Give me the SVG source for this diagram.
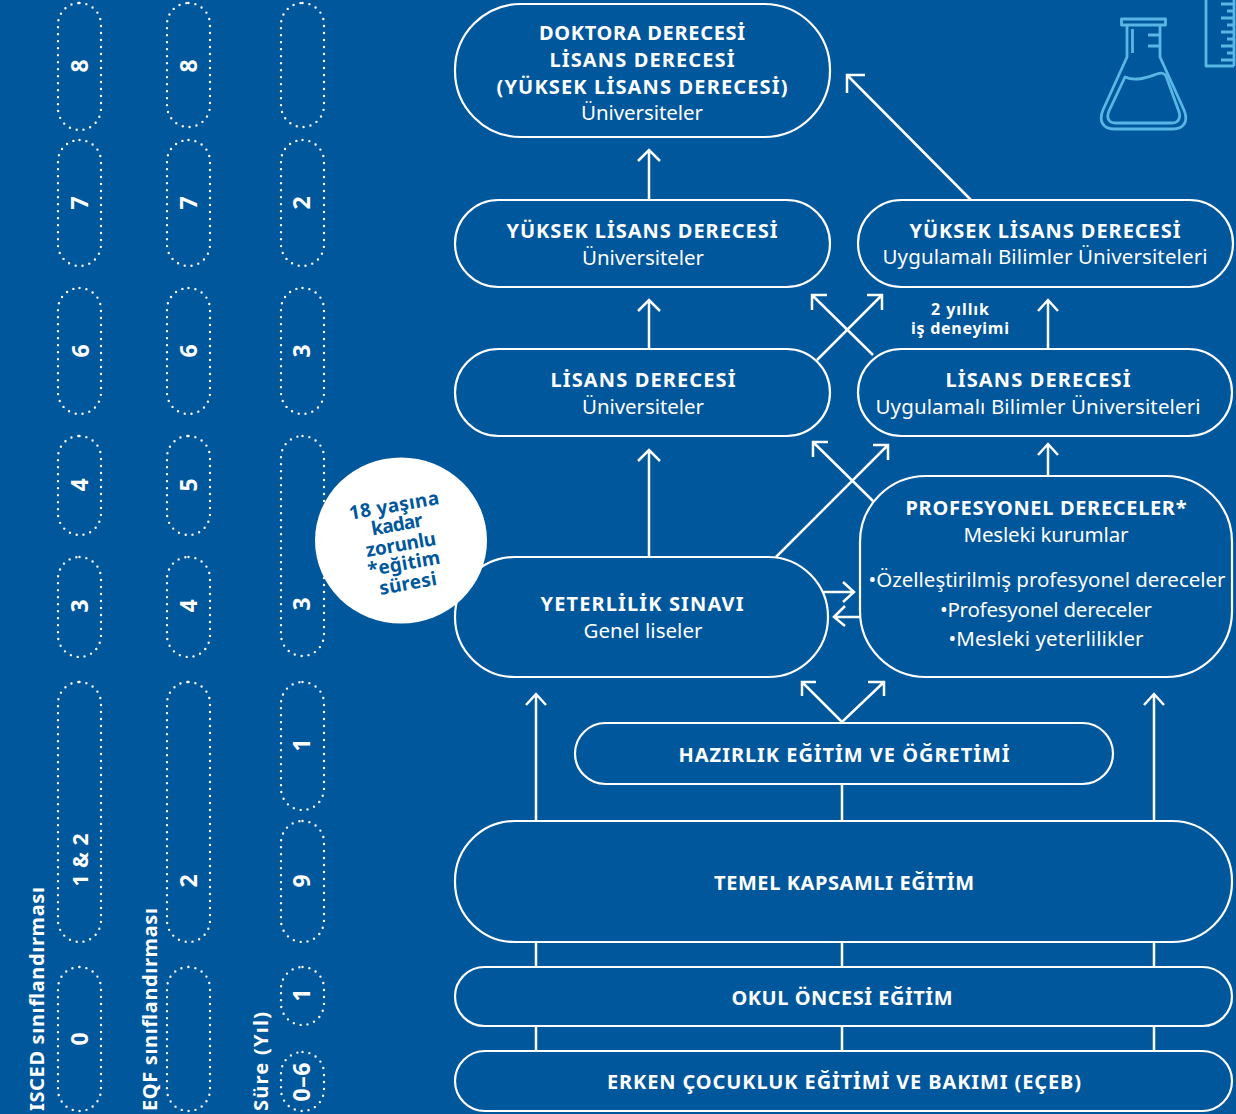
<svg xmlns="http://www.w3.org/2000/svg" width="1236" height="1114" viewBox="0 0 1236 1114">
<style>
text{font-family:"Noto Sans","Liberation Sans",sans-serif;fill:#fff;text-anchor:middle}
.h{font-size:20px;font-weight:700}
.s{font-size:20.500px;font-weight:400}
.n{fill:none;stroke:#fff;stroke-width:2.200}
.d{fill:none;stroke:#fff;stroke-width:2.400;stroke-linecap:round;stroke-dasharray:0 7}
.c{fill:none;stroke:#fff;stroke-width:2.500}
.f{fill:none;stroke:#59b7e6;stroke-width:2.800;stroke-linejoin:round}
.r{font-size:23px;font-weight:700}
.l{font-size:20px;font-weight:700;text-anchor:start}
.w{font-size:16px;font-weight:700}
.b{font-size:19px;font-weight:700;fill:#00579c}
</style>
<rect width="1236" height="1114" fill="#00579c"/>
<g id="scale-isced">
<rect class="d" x="58" y="3" width="43" height="127" rx="21.5"/><rect class="d" x="58" y="140" width="43" height="126" rx="21.5"/><rect class="d" x="58" y="288" width="43" height="126" rx="21.5"/><rect class="d" x="58" y="436" width="43" height="99" rx="21.5"/><rect class="d" x="58" y="557" width="43" height="100" rx="21.5"/><rect class="d" x="58" y="682" width="43" height="260" rx="21.5"/><rect class="d" x="58" y="967" width="43" height="144" rx="21.5"/>
<text class="r" transform="translate(88,66) rotate(-90)">8</text><text class="r" transform="translate(88,203) rotate(-90)">7</text><text class="r" transform="translate(89,351) rotate(-90)">6</text><text class="r" transform="translate(88,485) rotate(-90)">4</text><text class="r" transform="translate(88,606) rotate(-90)">3</text><text class="r" style="font-size:21px" transform="translate(88,860) rotate(-90)" textLength="53">1 &amp; 2</text><text class="r" transform="translate(88,1039) rotate(-90)">0</text>
<text class="l" transform="translate(44,1111) rotate(-90)" textLength="224">ISCED sınıflandırması</text>
</g>
<g id="scale-eqf">
<rect class="d" x="167" y="3" width="43" height="124" rx="21.5"/><rect class="d" x="167" y="140" width="43" height="126" rx="21.5"/><rect class="d" x="167" y="288" width="43" height="126" rx="21.5"/><rect class="d" x="167" y="436" width="43" height="99" rx="21.5"/><rect class="d" x="167" y="557" width="43" height="100" rx="21.5"/><rect class="d" x="167" y="682" width="43" height="260" rx="21.5"/><rect class="d" x="167" y="967" width="43" height="144" rx="21.5"/>
<text class="r" transform="translate(196.500,66) rotate(-90)">8</text><text class="r" transform="translate(196.500,203) rotate(-90)">7</text><text class="r" transform="translate(196.500,351) rotate(-90)">6</text><text class="r" transform="translate(196.500,485) rotate(-90)">5</text><text class="r" transform="translate(196.500,606) rotate(-90)">4</text><text class="r" transform="translate(196.500,881) rotate(-90)">2</text>
<text class="l" transform="translate(157,1111) rotate(-90)" textLength="203">EQF sınıflandırması</text>
</g>
<g id="scale-duration">
<rect class="d" x="281" y="3" width="43" height="124" rx="21.5"/><rect class="d" x="281" y="140" width="43" height="126" rx="21.5"/><rect class="d" x="281" y="288" width="43" height="126" rx="21.5"/><rect class="d" x="281" y="436" width="43" height="220" rx="21.5"/><rect class="d" x="281" y="682" width="43" height="128" rx="21.5"/><rect class="d" x="281" y="821" width="43" height="121" rx="21.5"/><rect class="d" x="281" y="967" width="43" height="58" rx="21.5"/><rect class="d" x="281" y="1052" width="43" height="59" rx="21.5"/>
<text class="r" transform="translate(310,203) rotate(-90)">2</text><text class="r" transform="translate(310,351) rotate(-90)">3</text><text class="r" transform="translate(310,604) rotate(-90)">3</text><text class="r" transform="translate(310,745) rotate(-90)">1</text><text class="r" transform="translate(310,881) rotate(-90)">9</text><text class="r" transform="translate(310,995) rotate(-90)">1</text><text class="r" transform="translate(310,1082) rotate(-90)" textLength="39">0–6</text>
<text class="l" transform="translate(268,1111) rotate(-90)" textLength="99">Süre (Yıl)</text>
</g>
<g id="connectors">
<path class="c" d="M649 200V150M638 161L649 150L660 161"/>
<path class="c" d="M971 200L847 75M847 93V75H865"/>
<path class="c" d="M649 349V300M638 311L649 300L660 311"/>
<path class="c" d="M817 360L882 295M867 295H882V310"/>
<path class="c" d="M873 355L812 295M812 310V295H827"/>
<path class="c" d="M1048 349V300M1038 311L1048 300L1058 311"/>
<path class="c" d="M649 557V450M638 461L649 450L660 461"/>
<path class="c" d="M776 557L888 445M873 445H888V460"/>
<path class="c" d="M873 501L813 442M813 457V442H828"/>
<path class="c" d="M1048 476V444M1038 455L1048 444L1058 455"/>
<path class="c" d="M823 592H854M843 582L854 592L843 602"/>
<path class="c" d="M860 617H834M845 606L834 617L845 626"/>
<path class="c" d="M802 682L842 722L884 682M802 696V682H816M868 682H884V696"/>
<path class="c" d="M536 821V694M526 705L536 694L546 705"/>
<path class="c" d="M1154 821V694M1144 705L1154 694L1164 705"/>
<path class="c" d="M842 784V821M536 942V967M842 942V967M1154 942V967M536 1026V1051M842 1026V1051M1154 1026V1051"/>
</g>
<g id="node-doktora"><rect class="n" x="455" y="4" width="375" height="133" rx="66"/>
<text class="h" x="642" y="40" textLength="206">DOKTORA DERECESİ</text><text class="h" x="642" y="67" textLength="185">LİSANS DERECESİ</text><text class="h" x="642" y="94" textLength="291">(YÜKSEK LİSANS DERECESİ)</text><text class="s" x="642" y="120" textLength="122">Üniversiteler</text></g>
<g id="node-yl-uni"><rect class="n" x="455" y="200" width="375" height="87" rx="43.5"/>
<text class="h" x="642" y="238" textLength="271">YÜKSEK LİSANS DERECESİ</text><text class="s" x="643" y="265" textLength="122">Üniversiteler</text></g>
<g id="node-yl-uas"><rect class="n" x="858" y="200" width="375" height="87" rx="43.5"/>
<text class="h" x="1045" y="238" textLength="271">YÜKSEK LİSANS DERECESİ</text><text class="s" x="1045" y="264" textLength="325">Uygulamalı Bilimler Üniversiteleri</text></g>
<g id="note-deneyim"><text class="w" x="960" y="315" textLength="58">2 yıllık</text><text class="w" x="960" y="334" textLength="98">iş deneyimi</text></g>
<g id="node-l-uni"><rect class="n" x="455" y="349" width="375" height="87" rx="43.5"/>
<text class="h" x="643" y="387" textLength="185">LİSANS DERECESİ</text><text class="s" x="643" y="414" textLength="122">Üniversiteler</text></g>
<g id="node-l-uas"><rect class="n" x="858" y="349" width="374" height="87" rx="43.5"/>
<text class="h" x="1038" y="387" textLength="185">LİSANS DERECESİ</text><text class="s" x="1038" y="414" textLength="325">Uygulamalı Bilimler Üniversiteleri</text></g>
<g id="node-yeterlilik"><rect class="n" x="455" y="557" width="373" height="120" rx="60"/>
<text class="h" x="642" y="611" textLength="203">YETERLİLİK SINAVI</text><text class="s" x="643" y="638" textLength="119">Genel liseler</text></g>
<g id="node-profesyonel"><rect class="n" x="860" y="476" width="372" height="201" rx="66"/>
<text class="h" x="1046" y="515" textLength="281">PROFESYONEL DERECELER*</text><text class="s" x="1046" y="542" textLength="165">Mesleki kurumlar</text>
<text class="s" x="1047" y="587" textLength="357">•Özelleştirilmiş profesyonel dereceler</text><text class="s" x="1046" y="617" textLength="212">•Profesyonel dereceler</text><text class="s" x="1046" y="646" textLength="195">•Mesleki yeterlilikler</text></g>
<g id="node-hazirlik"><rect class="n" x="575" y="723" width="538" height="61" rx="30.5"/>
<text class="h" x="844" y="762" textLength="331">HAZIRLIK EĞİTİM VE ÖĞRETİMİ</text></g>
<g id="node-temel"><rect class="n" x="455" y="821" width="777" height="121" rx="60"/>
<text class="h" x="844" y="890" textLength="260">TEMEL KAPSAMLI EĞİTİM</text></g>
<g id="node-okul"><rect class="n" x="455" y="967" width="777" height="59" rx="29.5"/>
<text class="h" x="842" y="1005" textLength="221">OKUL ÖNCESİ EĞİTİM</text></g>
<g id="node-ecec"><rect class="n" x="455" y="1051" width="777" height="60" rx="30"/>
<text class="h" x="844" y="1089" textLength="474">ERKEN ÇOCUKLUK EĞİTİMİ VE BAKIMI (EÇEB)</text></g>
<g id="note-zorunlu"><ellipse cx="401" cy="540.500" rx="86" ry="83" fill="#fff"/>
<text class="b" transform="translate(394,506) rotate(-10)" y="6" textLength="91">18 yaşına</text><text class="b" transform="translate(397,525) rotate(-10)" y="6" textLength="52">kadar</text><text class="b" transform="translate(401,545) rotate(-10)" y="6" textLength="71">zorunlu</text><text class="b" transform="translate(404,564) rotate(-10)" y="6" textLength="73">*eğitim</text><text class="b" transform="translate(408,584) rotate(-10)" y="6" textLength="58">süresi</text></g>
<g id="icon-flask">
<rect class="f" x="1121.5" y="19" width="44" height="6"/>
<path class="f" d="M1127 25V57L1103 110C1098 122 1104 129 1114 129H1173C1183 129 1189 122 1184 110L1160 57V25"/>
<path class="f" d="M1132.500 29V53M1148 35H1160M1148 46H1160"/>
<path class="f" d="M1125 77C1136 82 1148 77 1157 74C1162 72 1165 74 1166 76L1178 109C1182 118 1178 123 1172 123H1115C1109 123 1106 118 1109 111Z"/>
</g>
<g id="icon-ruler">
<path class="f" d="M1206 0V66H1234"/>
<path class="f" d="M1234 0V66M1221 4H1234M1227 11H1234M1221 18H1234M1227 25H1234M1221 32H1234M1227 39H1234M1221 46H1234M1227 53H1234M1221 60H1234"/>
</g>
</svg>
